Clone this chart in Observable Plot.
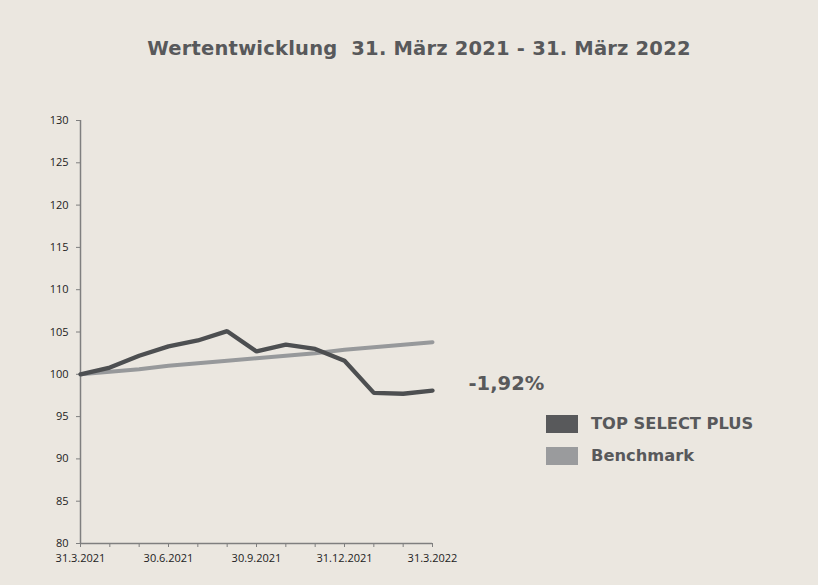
<!DOCTYPE html>
<html>
<head>
<meta charset="utf-8">
<script src="https://cdn.jsdelivr.net/npm/d3@7"></script>
<script src="https://cdn.jsdelivr.net/npm/@observablehq/plot@0.6"></script>
<style>
  html, body { margin: 0; padding: 0; background: #ebe7e0; }
  #wrap { position: relative; width: 818px; height: 585px; background: #ebe7e0; overflow: hidden; }
  #title { position: absolute; left: 0; width: 818px; top: 37px; text-align: center; padding-left: 20px; box-sizing: border-box;
    font-family: "DejaVu Sans", sans-serif; font-weight: bold; font-size: 19.5px; color: #58595b; letter-spacing: 0.2px; }
  .leg { position: absolute; left: 546px; font-family: "DejaVu Sans", sans-serif; font-weight: bold;
    font-size: 16.3px; color: #58595b; display: flex; align-items: center; }
  .sw { width: 32px; height: 18px; margin-right: 13px; }
  svg { position: absolute; left: 0; top: 0; }
</style>
</head>
<body>
<div id="wrap">
  <div id="title">Wertentwicklung&nbsp; 31. März 2021 - 31. März 2022</div>
  <div class="leg" style="top:414px"><div class="sw" style="background:#58595b"></div>TOP SELECT PLUS</div>
  <div class="leg" style="top:446px"><div class="sw" style="background:#9a9b9d"></div>Benchmark</div>
</div>
<script>
const months = ["31.3.2021","30.4.2021","31.5.2021","30.6.2021","31.7.2021","31.8.2021","30.9.2021","31.10.2021","30.11.2021","31.12.2021","31.1.2022","28.2.2022","31.3.2022"];
const tickLabels = ["31.3.2021","","","30.6.2021","","","30.9.2021","","","31.12.2021","","","31.3.2022"];
const fund = [100.0, 100.8, 102.2, 103.3, 104.0, 105.1, 102.7, 103.5, 103.0, 101.6, 97.8, 97.7, 98.08];
const benchmark = [100.0, 100.3, 100.6, 101.0, 101.3, 101.6, 101.9, 102.2, 102.5, 102.9, 103.2, 103.5, 103.8];
const yTicks = [80, 85, 90, 95, 100, 105, 110, 115, 120, 125, 130];
const endLabel = "-1,92%";

const fundData = fund.map((v, i) => ({i, v}));
const benchData = benchmark.map((v, i) => ({i, v}));

const chart = Plot.plot({
  width: 818,
  height: 585,
  marginLeft: 80,
  marginRight: 386,
  marginTop: 120,
  marginBottom: 42,
  style: {background: "transparent", fontFamily: "'Open Sans', sans-serif", fontSize: "11px", color: "#222"},
  x: {domain: [0, 12]},
  y: {domain: [80, 130]},
  marks: [
    Plot.axisY({ticks: yTicks, tickSize: 4, tickPadding: 8, stroke: "#7f7f7f", fill: "#222", label: null, fontSize: 11}),
    Plot.axisX({ticks: d3.range(0, 13), tickSize: 4, tickPadding: 7, tickFormat: i => tickLabels[i], stroke: "#7f7f7f", fill: "#222", label: null, fontSize: 11}),
    Plot.ruleX([0], {stroke: "#7f7f7f", strokeWidth: 1.5}),
    Plot.ruleY([80], {stroke: "#7f7f7f", strokeWidth: 1.5}),
    Plot.line(benchData, {x: "i", y: "v", stroke: "#97999b", strokeWidth: 4}),
    Plot.line(fundData, {x: "i", y: "v", stroke: "#4d4f51", strokeWidth: 4.3, strokeLinejoin: "miter"}),
    Plot.text([fundData[fundData.length - 1]], {x: "i", y: "v", text: () => endLabel, dx: 36, dy: -7, textAnchor: "start",
      fill: "#58595b", fontSize: 19.5, fontWeight: "bold", fontFamily: "'DejaVu Sans', sans-serif"})
  ]
});
document.getElementById("wrap").prepend(chart);
</script>
</body>
</html>
